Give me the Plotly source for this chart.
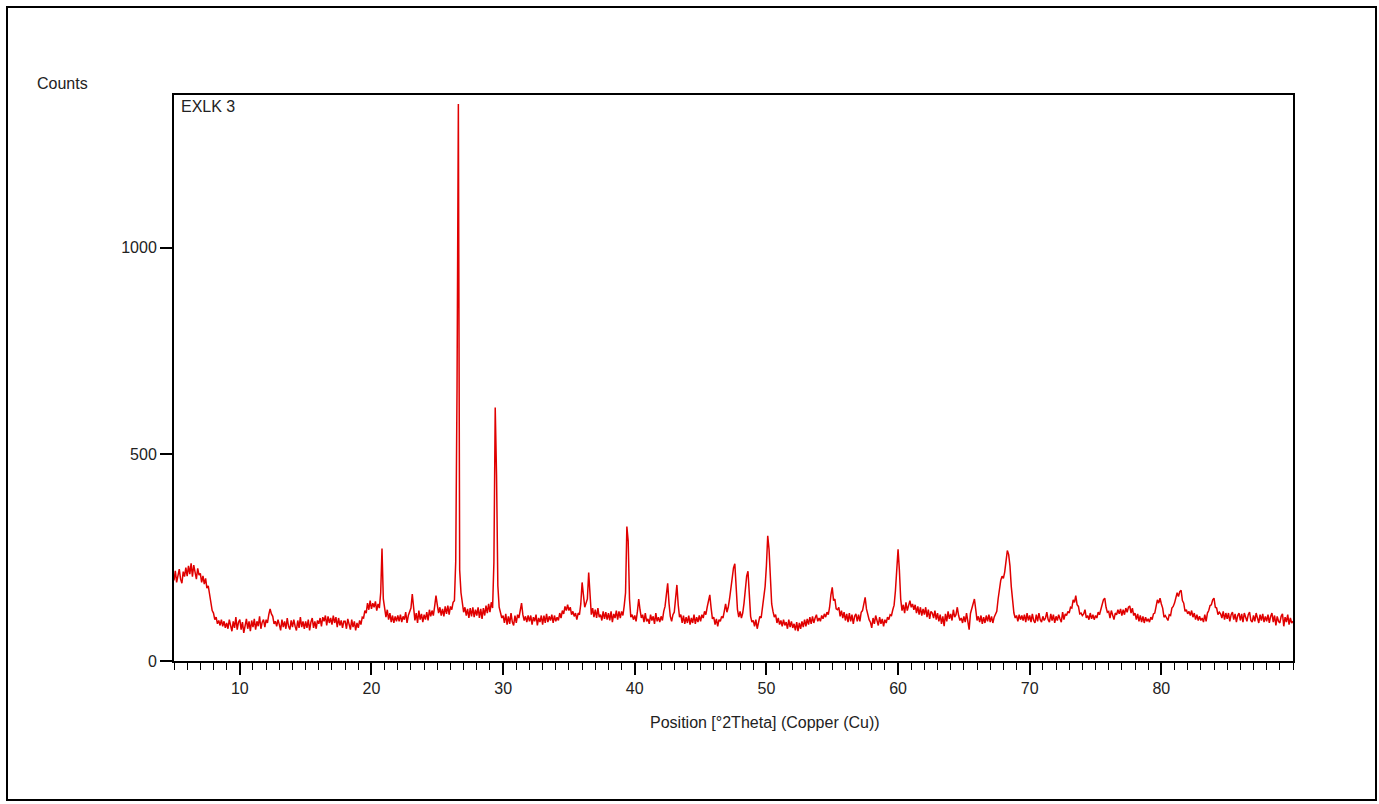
import plotly.graph_objects as go
import numpy as np

# ---- data: XRD scan, 2theta grid from 5.0 to 90.0 deg in 0.1 deg steps ----
two_theta_start = 5.0
two_theta_step = 0.1

counts = [
    # 5.0 - 5.9
    195, 218, 190, 212, 222, 198, 188, 216, 204, 226,
    # 6.0
    205, 230, 210, 236, 204, 232, 214, 198, 224, 208,
    # 7.0
    212, 190, 206, 186, 200, 176, 182, 158, 142, 122,
    # 8.0
    116, 100, 106, 90, 98, 86, 100, 84, 96, 80,
    # 9.0
    92, 78, 100, 84, 72, 96, 80, 106, 76, 94,
    # 10.0
    100, 76, 94, 68, 90, 102, 78, 96, 72, 98,
    # 11.0
    82, 102, 76, 96, 84, 108, 78, 94, 100, 82,
    # 12.0
    100, 92, 112, 126, 114, 108, 90, 96, 84, 100,
    # 13.0
    88, 74, 100, 82, 96, 78, 104, 84, 76, 98,
    # 14.0
    82, 100, 84, 74, 98, 80, 106, 82, 96, 78,
    # 15.0
    96, 80, 100, 74, 94, 104, 80, 96, 78, 98,
    # 16.0
    90, 104, 84, 106, 96, 110, 86, 108, 92, 104,
    # 17.0
    88, 110, 92, 106, 82, 104, 86, 98, 80, 96,
    # 18.0
    96, 78, 102, 84, 76, 100, 82, 96, 74, 92,
    # 19.0
    80, 98, 88, 106, 104, 122, 116, 140, 124, 146,
    # 20.0
    126, 140, 130, 144, 122, 138, 128, 165, 272, 150,
    # 21.0
    120, 106, 124, 100, 116, 94, 110, 92, 108, 96,
    # 22.0
    110, 96, 112, 94, 108, 100, 118, 92, 110, 120,
    # 23.0
    128, 162, 118, 98, 116, 92, 122, 100, 114, 94,
    # 24.0
    112, 100, 118, 98, 124, 108, 122, 110, 132, 158,
    # 25.0
    136, 116, 130, 110, 126, 108, 132, 114, 134, 112,
    # 26.0
    132, 124, 142, 146, 240, 660, 1347, 220, 165, 140,
    # 27.0
    118, 130, 110, 126, 104, 128, 108, 130, 106, 124,
    # 28.0
    110, 130, 104, 126, 102, 128, 110, 134, 116, 138,
    # 29.0
    118, 142, 128, 238, 613, 450, 182, 130, 112, 104,
    # 30.0
    110, 92, 114, 88, 108, 90, 116, 94, 86, 110,
    # 31.0
    92, 112, 104, 126, 140, 112, 98, 108, 94, 110,
    # 32.0
    96, 110, 88, 106, 96, 112, 86, 104, 94, 110,
    # 33.0
    88, 110, 92, 114, 94, 108, 98, 112, 92, 110,
    # 34.0
    96, 106, 98, 116, 104, 122, 114, 132, 122, 136,
    # 35.0
    122, 130, 112, 120, 108, 116, 100, 116, 112, 138,
    # 36.0
    190, 160, 130, 140, 150, 214, 145, 112, 128, 106,
    # 37.0
    124, 104, 128, 106, 112, 98, 120, 102, 118, 100,
    # 38.0
    116, 98, 120, 94, 114, 104, 122, 100, 120, 104,
    # 39.0
    120, 110, 134, 165, 325, 290, 150, 106, 112, 100,
    # 40.0
    110, 96, 120, 150, 124, 104, 112, 94, 116, 96,
    # 41.0
    102, 90, 112, 98, 108, 90, 116, 96, 106, 94,
    # 42.0
    108, 98, 120, 132, 160, 188, 140, 108, 96, 112,
    # 43.0
    118, 150, 184, 136, 106, 112, 92, 110, 90, 106,
    # 44.0
    92, 110, 88, 104, 92, 112, 90, 106, 94, 110,
    # 45.0
    96, 112, 104, 120, 112, 130, 145, 160, 128, 102,
    # 46.0
    106, 88, 102, 84, 100, 96, 108, 104, 120, 138,
    # 47.0
    118, 130, 150, 175, 200, 225, 235, 180, 125, 106,
    # 48.0
    120, 104, 116, 140, 180, 205, 217, 170, 108, 94,
    # 49.0
    98, 84, 100, 78, 92, 108, 104, 128, 150, 180,
    # 50.0
    230, 303, 270, 190, 138, 120, 106, 112, 92, 104,
    # 51.0
    88, 98, 84, 100, 86, 94, 78, 100, 82, 96,
    # 52.0
    80, 90, 74, 94, 72, 92, 78, 96, 82, 100,
    # 53.0
    84, 102, 88, 106, 90, 108, 92, 104, 112, 96,
    # 54.0
    104, 96, 110, 102, 114, 106, 118, 112, 130, 160,
    # 55.0
    178, 146, 150, 126, 124, 130, 108, 122, 104, 118,
    # 56.0
    98, 114, 94, 116, 96, 112, 90, 108, 114, 96,
    # 57.0
    112, 96, 118, 122, 142, 154, 126, 110, 100, 94,
    # 58.0
    80, 104, 90, 110, 94, 86, 106, 90, 102, 84,
    # 59.0
    100, 92, 106, 100, 112, 110, 124, 135, 170, 230,
    # 60.0
    270, 220, 150, 122, 136, 116, 142, 122, 134, 146,
    # 61.0
    130, 138, 124, 136, 116, 132, 112, 130, 110, 126,
    # 62.0
    112, 130, 106, 124, 102, 120, 116, 104, 122, 100,
    # 63.0
    116, 96, 112, 90, 108, 84, 114, 96, 120, 102,
    # 64.0
    114, 98, 124, 106, 112, 130, 110, 98, 104, 92,
    # 65.0
    108, 94, 116, 96, 76, 115, 128, 138, 150, 125,
    # 66.0
    98, 108, 94, 110, 90, 106, 92, 110, 96, 112,
    # 67.0
    94, 108, 92, 106, 112, 120, 150, 180, 195, 205,
    # 68.0
    200, 215, 245, 267, 258, 230, 180, 140, 116, 104,
    # 69.0
    110, 96, 112, 100, 110, 98, 112, 94, 116, 98,
    # 70.0
    110, 94, 114, 98, 92, 112, 96, 116, 100, 94,
    # 71.0
    108, 98, 104, 118, 100, 94, 114, 98, 112, 92,
    # 72.0
    108, 98, 112, 102, 94, 118, 100, 114, 110, 120,
    # 73.0
    116, 130, 128, 148, 142, 158, 136, 132, 114, 116,
    # 74.0
    110, 114, 124, 104, 110, 100, 116, 102, 112, 100,
    # 75.0
    110, 104, 118, 112, 128, 136, 148, 152, 130, 118,
    # 76.0
    120, 104, 122, 108, 100, 116, 112, 124, 114, 126,
    # 77.0
    110, 124, 112, 128, 118, 130, 133, 116, 128, 110,
    # 78.0
    116, 100, 114, 96, 110, 94, 108, 92, 106, 96,
    # 79.0
    102, 94, 106, 100, 114, 116, 138, 148, 140, 152,
    # 80.0
    138, 128, 106, 110, 104, 98, 112, 110, 128, 132,
    # 81.0
    140, 155, 165, 156, 168, 171, 146, 140, 120, 124,
    # 82.0
    114, 120, 110, 122, 106, 116, 100, 112, 98, 108,
    # 83.0
    98, 104, 94, 112, 96, 116, 122, 134, 136, 148,
    # 84.0
    152, 130, 128, 112, 118, 114, 104, 120, 100, 116,
    # 85.0
    102, 116, 96, 112, 118, 100, 114, 94, 110, 116,
    # 86.0
    98, 114, 94, 116, 102, 96, 112, 118, 98, 94,
    # 87.0
    110, 96, 116, 100, 92, 112, 98, 114, 94, 108,
    # 88.0
    96, 112, 92, 108, 116, 94, 110, 86, 108, 96,
    # 89.0
    92, 108, 114, 84, 106, 94, 112, 88, 104, 92,
    # 90.0
    96,
]

two_theta = np.round(two_theta_start + two_theta_step * np.arange(len(counts)), 2)

x_range = [5, 90]
x_ticks = [10, 20, 30, 40, 50, 60, 70, 80]
y_range = [0, 1369]
y_ticks = [0, 500, 1000]
x_title = "Position [°2Theta] (Copper (Cu))"
y_title = "Counts"
sample_name = "EXLK 3"

# ---- layout geometry (pixels) ----
W, H = 1379, 804
L, R, T, B = 174, 1293, 95, 661
pw, ph = R - L, B - T


def px(xp):
    return (xp - L) / pw


def py(yp):
    return (B - yp) / ph


FONT = "Liberation Sans, Arial, sans-serif"

fig = go.Figure()
fig.add_trace(go.Scatter(
    x=two_theta, y=counts, mode="lines",
    line=dict(color="#e00000", width=1.5),
    hoverinfo="x+y", showlegend=False,
))

axis_common = dict(
    showline=True, linecolor="black", linewidth=2, mirror=True,
    showgrid=False, zeroline=False,
    ticks="outside", ticklen=12, tickwidth=1.5, tickcolor="black",
    tickfont=dict(family=FONT, size=16, color="#222222"),
)

fig.update_layout(
    width=W, height=H,
    margin=dict(l=L, r=W - R, t=T, b=H - B),
    paper_bgcolor="white", plot_bgcolor="white",
    xaxis=dict(
        range=x_range, tickvals=x_ticks, ticktext=[str(v) for v in x_ticks],
        minor=dict(ticks="outside", ticklen=7, tickwidth=1.2, tickcolor="black",
                   dtick=1, tick0=0, showgrid=False),
        **axis_common,
    ),
    yaxis=dict(range=y_range, tickvals=y_ticks, ticktext=[str(v) for v in y_ticks], **axis_common),
    shapes=[dict(
        type="rect", xref="paper", yref="paper",
        x0=px(7), x1=px(1376), y0=py(800), y1=py(7),
        line=dict(color="black", width=2), fillcolor="rgba(0,0,0,0)",
    )],
    annotations=[
        dict(text=x_title, xref="paper", yref="paper", x=px(765), y=py(722),
             xanchor="center", yanchor="middle", showarrow=False,
             font=dict(family=FONT, size=16, color="#222222")),
        dict(text=y_title, xref="paper", yref="paper", x=px(35), y=py(83),
             xanchor="left", yanchor="middle", showarrow=False,
             font=dict(family=FONT, size=16, color="#222222")),
        dict(text=sample_name, xref="paper", yref="paper", x=px(179), y=py(106),
             xanchor="left", yanchor="middle", showarrow=False,
             font=dict(family=FONT, size=16, color="#222222")),
    ],
)

fig.write_html("out.html")
